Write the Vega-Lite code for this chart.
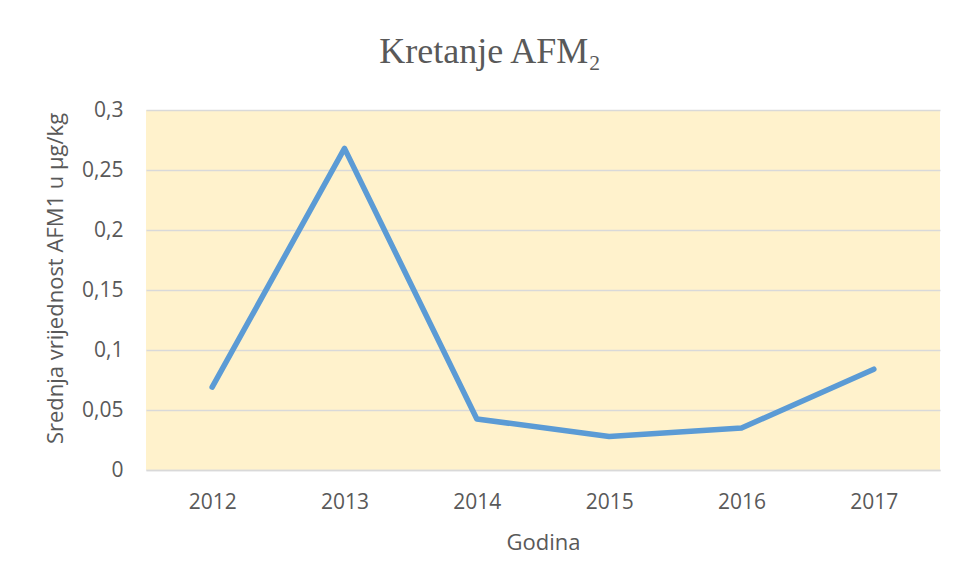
{
  "$schema": "https://vega.github.io/schema/vega-lite/v6.json",
  "width": 794,
  "height": 360,
  "autosize": "none",
  "padding": {"left": 146, "top": 110, "right": 13, "bottom": 112},
  "background": "white",
  "title": {
    "text": "Kretanje AFM₂",
    "font": "Liberation Serif",
    "fontSize": 36,
    "fontWeight": "normal",
    "color": "#595959",
    "anchor": "middle",
    "dx": -53,
    "offset": 28
  },
  "data": {
    "values": [
      {"Godina": "2012", "AFM1": 0.069},
      {"Godina": "2013", "AFM1": 0.268},
      {"Godina": "2014", "AFM1": 0.0425},
      {"Godina": "2015", "AFM1": 0.028},
      {"Godina": "2016", "AFM1": 0.035},
      {"Godina": "2017", "AFM1": 0.084}
    ]
  },
  "mark": {"type": "line", "color": "#5B9BD5", "strokeWidth": 5.5, "strokeCap": "round", "strokeJoin": "round"},
  "encoding": {
    "x": {
      "field": "Godina",
      "type": "ordinal",
      "scale": {"type": "point", "padding": 0.5},
      "axis": {
        "title": "Godina",
        "labelAngle": 0,
        "ticks": false,
        "domain": true,
        "domainColor": "#D9D9D9",
        "domainWidth": 1.5,
        "labelPadding": 21,
        "titlePadding": 20
      }
    },
    "y": {
      "field": "AFM1",
      "type": "quantitative",
      "scale": {"domain": [0, 0.3], "nice": false},
      "axis": {
        "title": "Srednja vrijednost AFM1 u µg/kg",
        "values": [0, 0.05, 0.1, 0.15, 0.2, 0.25, 0.3],
        "labelExpr": "replace(format(datum.value, '.2~f'), '.', ',')",
        "ticks": false,
        "domain": false,
        "grid": true,
        "gridColor": "#D9D9D9",
        "gridWidth": 1.5,
        "labelPadding": 23,
        "titlePadding": 14,
        "titleY": 168
      }
    }
  },
  "config": {
    "view": {"fill": "#FFF2CC", "stroke": null},
    "axis": {
      "labelFont": "Open Sans",
      "labelFontSize": 21,
      "labelColor": "#595959",
      "titleFont": "Open Sans",
      "titleFontSize": 22,
      "titleFontWeight": "normal",
      "titleColor": "#595959"
    }
  }
}
